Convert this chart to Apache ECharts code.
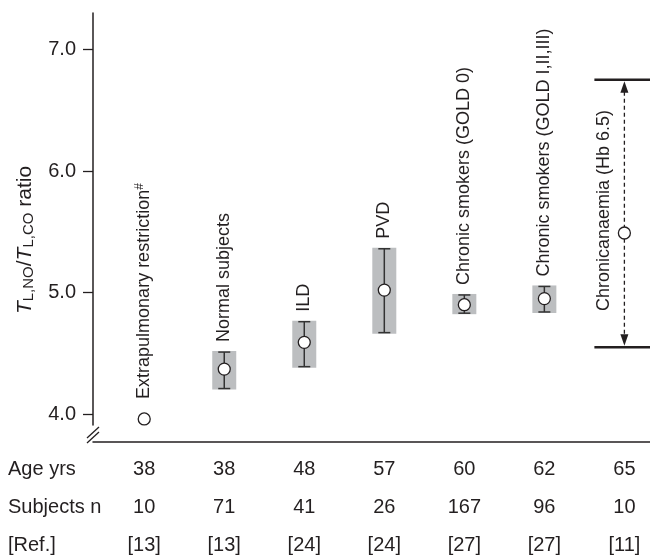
<!DOCTYPE html>
<html>
<head>
<meta charset="utf-8">
<script src="https://cdn.jsdelivr.net/npm/echarts@6/dist/echarts.min.js"></script>
<style>
html, body { margin: 0; padding: 0; background: #fff; }
#chart { width: 650px; height: 556px; }
</style>
</head>
<body>
<div id="chart"></div>
<script>
// groups, left to right
const categories = ['Extrapulmonary restriction', 'Normal subjects', 'ILD', 'PVD',
  'Chronic smokers (GOLD 0)', 'Chronic smokers (GOLD I,II,III)', 'Chronicanaemia (Hb 6.5)'];
const means = [3.96, 4.37, 4.59, 5.02, 4.90, 4.95, 5.49];
const upper = [null, 4.51, 4.76, 5.36, 4.98, 5.05, 6.75];
const lower = [null, 4.21, 4.39, 4.67, 4.83, 4.84, 4.55];
// table under the plot
const ages = [38, 38, 48, 57, 60, 62, 65];
const subjects = [10, 71, 41, 26, 167, 96, 10];
const refs = ['[13]', '[13]', '[24]', '[24]', '[27]', '[27]', '[11]'];
const rowTitles = ['Age yrs', 'Subjects n', '[Ref.]'];
const yTicks = [4, 5, 6, 7];

const ink = '#231f20';
const font = 'Liberation Sans, Arial, sans-serif';
const idx = categories.map((c, i) => i);
const xMin = -0.64, xMax = 6.32;
const yMin = 3.91, yMax = 7.3;
const rowOffsets = [27, 65, 103];

function tableAxis(offset, values) {
  return {
    type: 'value', min: xMin, max: xMax, position: 'bottom', offset: offset,
    axisLine: { show: false }, axisTick: { show: false }, splitLine: { show: false },
    axisLabel: {
      customValues: idx, formatter: v => String(values[Math.round(v)]),
      margin: 7, fontSize: 20, color: ink, fontFamily: font
    }
  };
}

const chart = echarts.init(document.getElementById('chart'));

const option = {
  animation: false,
  grid: { left: 93, right: 0, top: 13, bottom: 131, containLabel: false },
  xAxis: [
    {
      type: 'value', min: xMin, max: xMax, position: 'bottom', offset: 17,
      axisLine: { show: true, onZero: false, lineStyle: { color: ink, width: 1.5 } },
      axisTick: { show: false }, axisLabel: { show: false }, splitLine: { show: false }
    },
    tableAxis(rowOffsets[0], ages),
    tableAxis(rowOffsets[1], subjects),
    tableAxis(rowOffsets[2], refs)
  ],
  yAxis: {
    type: 'value', min: yMin, max: yMax, position: 'left',
    name: '{i|T}{s|L,NO}/{i|T}{s|L,CO} ratio',
    nameLocation: 'middle', nameRotate: 90, nameGap: 57,
    nameTextStyle: {
      fontSize: 21, color: ink, fontFamily: font, padding: [0, 42, 0, 0],
      rich: {
        i: { fontStyle: 'italic', fontSize: 21, color: ink, fontFamily: font },
        s: { fontSize: 15, color: ink, fontFamily: font, verticalAlign: 'bottom' }
      }
    },
    axisLine: { show: true, onZero: false, lineStyle: { color: ink, width: 1.5 } },
    axisTick: { show: true, customValues: yTicks, length: 10, lineStyle: { color: ink, width: 1.3 } },
    axisLabel: {
      customValues: yTicks, formatter: v => v.toFixed(1),
      margin: 17, fontSize: 20, color: ink, fontFamily: font
    },
    splitLine: { show: false }
  },
  series: [
    {
      // shaded boxes with error bars
      type: 'custom',
      data: idx.filter(i => i > 0 && i < 6).map(i => [i, lower[i], upper[i]]),
      renderItem: function (params, api) {
        const i = api.value(0);
        const top = api.coord([i, api.value(2)]);
        const bot = api.coord([i, api.value(1)]);
        const x = top[0];
        const st = { stroke: '#333', lineWidth: 1.5 };
        return {
          type: 'group', children: [
            { type: 'rect', shape: { x: x - 12, y: top[1] - 1, width: 24, height: bot[1] - top[1] + 2 }, style: { fill: '#bcbec0' } },
            { type: 'line', shape: { x1: x, y1: top[1], x2: x, y2: bot[1] }, style: st },
            { type: 'line', shape: { x1: x - 6, y1: top[1], x2: x + 6, y2: top[1] }, style: st },
            { type: 'line', shape: { x1: x - 6, y1: bot[1], x2: x + 6, y2: bot[1] }, style: st }
          ]
        };
      }
    },
    {
      // chronic anaemia range: dashed with arrows
      type: 'custom', clip: false,
      data: [[6, lower[6], upper[6]]],
      renderItem: function (params, api) {
        const i = api.value(0);
        const top = api.coord([i, api.value(2)]);
        const bot = api.coord([i, api.value(1)]);
        const x = top[0];
        const thick = { stroke: ink, lineWidth: 2.5 };
        return {
          type: 'group', children: [
            { type: 'line', shape: { x1: x - 30, y1: top[1], x2: x + 40, y2: top[1] }, style: thick },
            { type: 'line', shape: { x1: x - 30, y1: bot[1], x2: x + 40, y2: bot[1] }, style: thick },
            { type: 'line', shape: { x1: x, y1: top[1] + 12, x2: x, y2: bot[1] - 12 }, style: { stroke: ink, lineWidth: 1.3, lineDash: [4, 3] } },
            { type: 'polygon', shape: { points: [[x, top[1] + 1.5], [x - 4, top[1] + 13], [x + 4, top[1] + 13]] }, style: { fill: ink } },
            { type: 'polygon', shape: { points: [[x, bot[1] - 1.5], [x - 4, bot[1] - 13], [x + 4, bot[1] - 13]] }, style: { fill: ink } }
          ]
        };
      }
    },
    {
      // vertical group labels
      type: 'custom', clip: false,
      data: idx.map(i => [i, upper[i] == null ? means[i] : upper[i], lower[i] == null ? means[i] : lower[i]]),
      renderItem: function (params, api) {
        const i = params.dataIndex;
        const top = api.coord([api.value(0), api.value(1)]);
        const bot = api.coord([api.value(0), api.value(2)]);
        const rich = { sup: { fontSize: 12, fontFamily: font, color: ink, verticalAlign: 'top', padding: [0, 0, 10, 0] } };
        let text = categories[i] + (i === 0 ? '{sup|#}' : '');
        if (i === 6) {
          return {
            type: 'text', x: top[0] - 20, y: (top[1] + bot[1]) / 2 - 3, rotation: Math.PI / 2,
            style: { text: text, fontSize: 18, fontFamily: font, fill: ink, align: 'center', verticalAlign: 'middle', rich: rich }
          };
        }
        const gap = i === 0 ? 20 : 10;
        return {
          type: 'text', x: top[0], y: top[1] - gap, rotation: Math.PI / 2,
          style: { text: text, fontSize: 18, fontFamily: font, fill: ink, align: 'left', verticalAlign: 'middle', rich: rich }
        };
      }
    },
    {
      type: 'scatter', symbol: 'circle', symbolSize: 12, z: 10,
      data: means.map((m, i) => [i, m]),
      itemStyle: { color: '#fff', borderColor: ink, borderWidth: 1.3, opacity: 1 }
    }
  ]
};

chart.setOption(option);

// axis break marks and row titles
const base = chart.convertToPixel({ gridIndex: 0 }, [xMin, yMin]);
const bx = base[0], by = base[1];
const graphics = [
  { type: 'line', shape: { x1: bx - 6, y1: by + 13, x2: bx + 6, y2: by + 2 }, style: { stroke: ink, lineWidth: 1.3 } },
  { type: 'line', shape: { x1: bx - 6, y1: by + 18, x2: bx + 6, y2: by + 7 }, style: { stroke: ink, lineWidth: 1.3 } }
];
rowTitles.forEach((t, k) => {
  graphics.push({
    type: 'text', x: 8, y: by + rowOffsets[k] + 7,
    style: { text: t, fontSize: 20, fontFamily: font, fill: ink, align: 'left', verticalAlign: 'top' }
  });
});
chart.setOption({ graphic: graphics });
</script>
</body>
</html>
